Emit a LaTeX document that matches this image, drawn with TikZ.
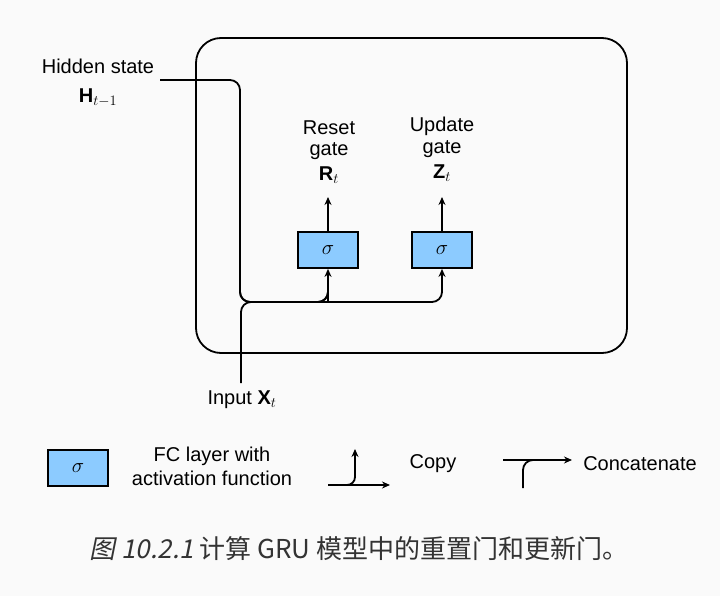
\documentclass[tikz,border=0pt]{standalone}
\usepackage{fontspec}
\setmainfont{Liberation Sans}
\newfontfamily\cjk{Noto Sans CJK SC}
\newfontfamily\cjkit[FakeSlant=0.2]{Noto Sans CJK SC}
\usetikzlibrary{arrows.meta}
\begin{document}
\begin{tikzpicture}[x=1pt,y=-1pt,
  wire/.style={line width=1.8pt},
  arr/.style={wire,-{Stealth[length=8pt,width=7pt]}},
  fc/.style={draw,line width=1.8pt,fill=blue!45!cyan!45,minimum width=60pt,minimum height=36pt,inner sep=0pt,font=\fontsize{20}{22}\selectfont},
  lbl/.style={font=\fontsize{20}{23}\selectfont,inner sep=0pt}]
\useasboundingbox[fill=gray!4] (0,0) rectangle (720,596);
\draw[wire,rounded corners=25pt] (196,38) rectangle (627,353);
\node[fc] (r) at (328,250) {$\sigma$};
\node[fc] (z) at (442,250) {$\sigma$};
\node[lbl] (rt1) at (329,128) {Reset};
\node[lbl] (rt2) at (329,151) {gate};
\node[lbl] (rt3) at (329,175) {$\mathbf{R}_t$};
\node[lbl] (zt1) at (442,126) {Update};
\node[lbl] (zt2) at (442,149) {gate};
\node[lbl] (zt3) at (442,173) {$\mathbf{Z}_t$};
\node[lbl] (h1) at (98,66) {Hidden state};
\node[lbl] (h2) at (98,98) {$\mathbf{H}_{t-1}$};
\node[lbl] (x) at (242,400) {Input $\mathbf{X}_t$};
\coordinate (hs) at (160,80);
\coordinate (xs) at (241,383);
\draw[arr] (r.north) -- (328,197);
\draw[arr] (z.north) -- (442,197);
\draw[wire,rounded corners=10pt] (hs) -- (240,80) -- (240,302) -- (328,302) -- ++(0,0);
\draw[arr,rounded corners=10pt] (240,290) |- (328,302) -- (r.south);
\draw[arr,rounded corners=10pt] (318,302) -- (442,302) -- (z.south);
\draw[wire,rounded corners=10pt] (xs) -- (241,302) -- (260,302);
% legend
\node[fc] (lg) at (78,468) {$\sigma$};
\node[lbl] (l1) at (212,456) {FC layer with};
\node[lbl] (l2) at (212,478) {activation function};
\coordinate (c1) at (328,485);
\coordinate (c2) at (390,485);
\draw[arr] (c1) -- (c2);
\draw[arr,rounded corners=8pt] (340,485) -| (355,449);
\node[lbl] (cp) at (433,464) {Copy};
\coordinate (k1) at (503,460);
\coordinate (k2) at (572,460);
\draw[arr] (k1) -- (k2);
\draw[wire,rounded corners=10pt] (523,488) |- (540,460);
\node[lbl] (ct) at (640,464) {Concatenate};
\node[font=\fontsize{26}{30}\selectfont,text=black!80] (cap) at (359,549) {\cjkit 图 10.2.1\cjk\ 计算 GRU 模型中的重置门和更新门。};
\end{tikzpicture}
\end{document}
